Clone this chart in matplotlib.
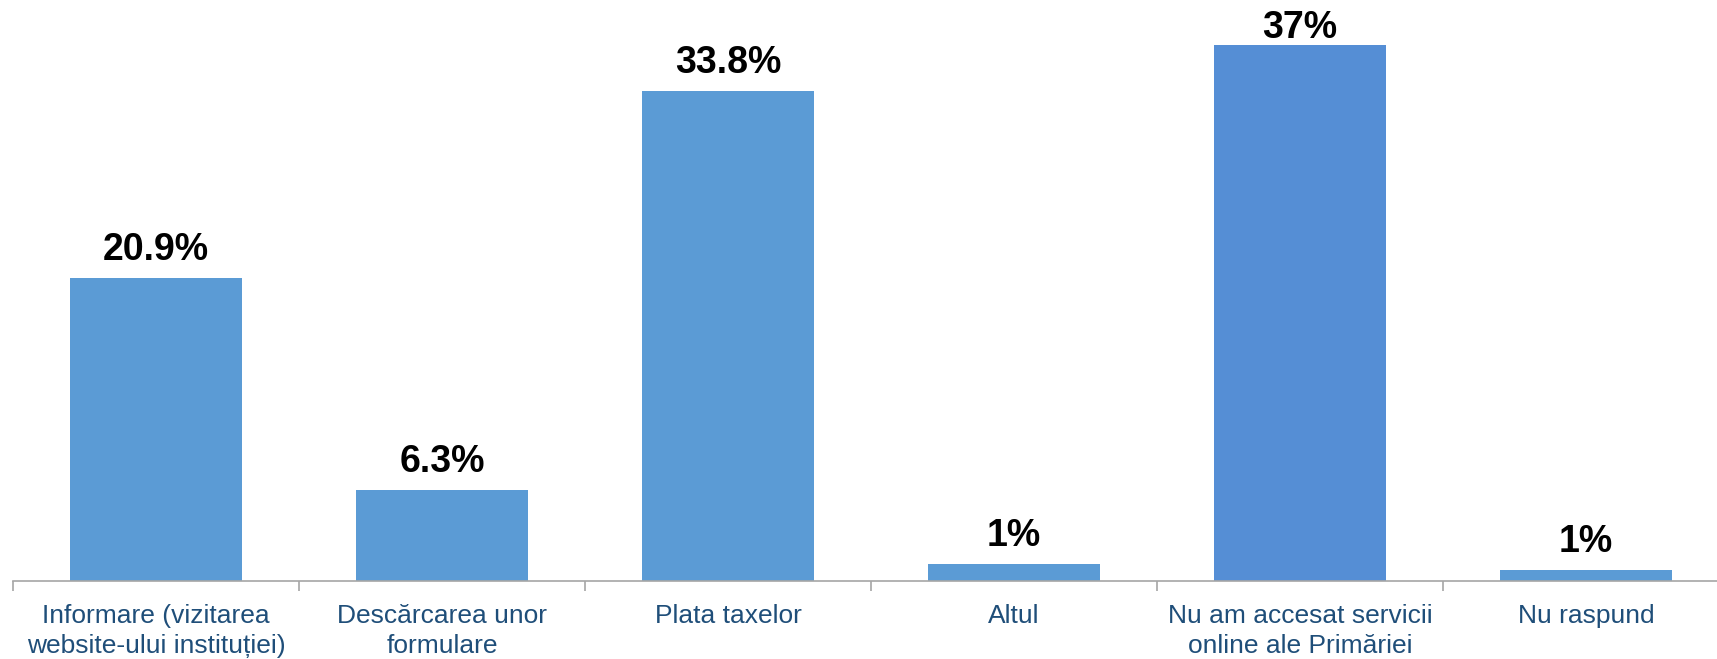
import matplotlib
matplotlib.use("Agg")
import matplotlib.pyplot as plt
from matplotlib.ticker import FixedLocator

plt.rcParams['font.family'] = ['Liberation Sans', 'DejaVu Sans']

categories = [
    "Informare (vizitarea\nwebsite-ului instituției)",
    "Descărcarea unor\nformulare",
    "Plata taxelor",
    "Altul",
    "Nu am accesat servicii\nonline ale Primăriei",
    "Nu raspund",
]
values = [20.9, 6.3, 33.8, 1.17, 37.0, 0.74]
value_labels = ["20.9%", "6.3%", "33.8%", "1%", "37%", "1%"]
bar_colors = ["#5B9BD5", "#5B9BD5", "#5B9BD5", "#5B9BD5", "#558ED5", "#5B9BD5"]

W, H = 1717, 659
fig = plt.figure(figsize=(W / 100, H / 100), dpi=100)
left_px, base_px, cat_px = 13, 581, 286
px_per_unit = 14.49
ymax = 40
ax = fig.add_axes([left_px / W, (H - base_px) / H, cat_px * 6 / W, ymax * px_per_unit / H])

x = list(range(len(categories)))
ax.bar(x, values, width=0.6, color=bar_colors, zorder=2)
ax.set_xlim(-0.5, len(categories) - 0.5)
ax.set_ylim(0, ymax)

for xi, v, lab in zip(x, values, value_labels):
    # keep the label inside the figure (like the original chart clamps it)
    room_px = (ymax - v) * px_per_unit
    off = 13.0 if room_px > 60 else 5.0
    ax.annotate(lab, (xi, v), xytext=(0, off), textcoords='offset points',
                ha='center', va='baseline', fontsize=27, fontweight='bold', color='black')

for s in ['top', 'right', 'left']:
    ax.spines[s].set_visible(False)
ax.spines['bottom'].set_color('#A6A6A6')
ax.spines['bottom'].set_linewidth(1.2)
ax.set_yticks([])

ax.set_xticks(x)
ax.set_xticklabels(categories, fontsize=19, color='#1F4E79')
for t in ax.get_xticklabels():
    t.set_linespacing(1.3)
ax.tick_params(axis='x', which='major', length=0, pad=16.5)
ax.xaxis.set_minor_locator(FixedLocator([i - 0.5 for i in range(len(categories) + 1)]))
ax.tick_params(axis='x', which='minor', length=7, width=1.2, color='#A6A6A6', direction='out')

fig.savefig("out.png", dpi=100)
